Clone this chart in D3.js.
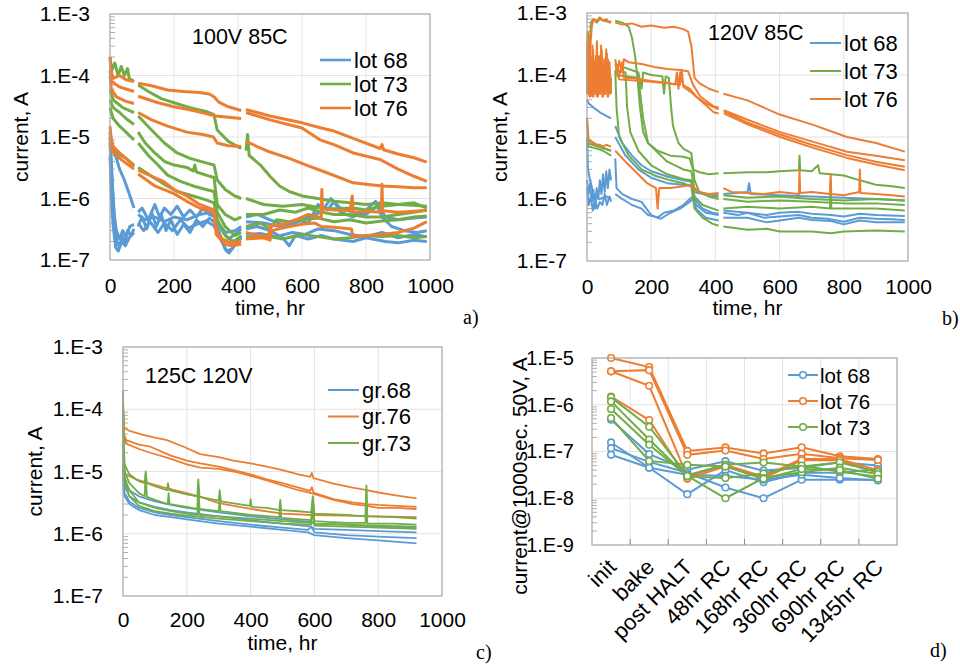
<!DOCTYPE html>
<html>
<head>
<meta charset="utf-8">
<script src="https://cdn.jsdelivr.net/npm/d3@7/dist/d3.min.js"></script>
<style>
  body { margin: 0; background: #fff; }
  svg { display: block; font-family: "Liberation Sans", Arial, sans-serif; }
</style>
</head>
<body>
<svg id="fig" width="960" height="664"></svg>
<script>

// ---------- data: [time hr, current A], null = logger gap ----------

// a) 100V 85C
var a68 = [
  [[0,1e-5],[3,5e-6],[8,1.5e-6],[15,4e-7],[22,2e-7],[30,1.6e-7],[38,2.5e-7],[45,1.8e-7],[55,3e-7],[65,2.5e-7],[75,3.2e-7],[80,null],[88,3.5e-7],[100,5e-7],[115,3.2e-7],[130,6e-7],[145,3.5e-7],[160,5.5e-7],[175,3e-7],[190,4.5e-7],[210,2.6e-7],[230,3.8e-7],[250,2.8e-7],[270,4.5e-7],[290,3.5e-7],[310,4.8e-7],[330,4e-7],[345,2.5e-7],[360,1.5e-7],[372,1.3e-7],[385,1.6e-7],[400,2.2e-7],[410,2.5e-7],[415,null],[425,3.2e-7],[460,3.5e-7],[500,3e-7],[540,2.3e-7],[560,1.7e-7],[580,2.5e-7],[620,2.2e-7],[660,2.5e-7],[700,2.2e-7],[760,2e-7],[800,2.3e-7],[860,2e-7],[900,1.9e-7],[950,2.1e-7],[990,2e-7]],
  [[0,8e-6],[5,2.5e-6],[12,6e-7],[20,3e-7],[30,2.2e-7],[40,3e-7],[50,2.4e-7],[62,3.5e-7],[75,3.8e-7],[80,null],[88,6e-7],[100,7e-7],[120,4.5e-7],[140,8e-7],[155,5e-7],[170,7e-7],[190,5.5e-7],[210,7.5e-7],[230,5e-7],[250,6.5e-7],[270,5e-7],[290,7e-7],[310,5.5e-7],[330,5e-7],[350,3e-7],[370,2.2e-7],[390,2.6e-7],[410,3.2e-7],[415,null],[425,5e-7],[460,5.5e-7],[500,4.5e-7],[540,3.8e-7],[580,4.5e-7],[620,4e-7],[650,8e-7],[680,6.5e-7],[700,9e-7],[720,6e-7],[760,5e-7],[800,6.5e-7],[830,9e-7],[850,5e-7],[880,3.5e-7],[920,3e-7],[960,2.8e-7],[990,3e-7]],
  [[0,5e-6],[4,1.2e-6],[10,3.5e-7],[18,1.6e-7],[26,1.4e-7],[36,2e-7],[48,1.7e-7],[60,2.3e-7],[75,2.8e-7],[80,null],[88,4e-7],[105,3e-7],[125,4.2e-7],[150,2.8e-7],[170,4e-7],[195,3e-7],[220,4.5e-7],[245,3.3e-7],[270,3.8e-7],[300,4.3e-7],[325,3.6e-7],[345,2.2e-7],[365,1.4e-7],[380,1.5e-7],[400,2e-7],[410,2.3e-7],[415,null],[425,2.6e-7],[470,2.7e-7],[520,2.4e-7],[570,2.8e-7],[610,2.6e-7],[650,3.2e-7],[700,3e-7],[750,2.6e-7],[800,2.4e-7],[850,2.8e-7],[900,2.3e-7],[950,2.6e-7],[990,2.4e-7]],
  [[0,1.2e-5],[10,6e-6],[20,4.5e-6],[30,3e-6],[45,2e-6],[60,1.2e-6],[75,7e-7],[80,null],[88,5.5e-7],[110,4.5e-7],[140,5e-7],[170,4.2e-7],[200,5e-7],[240,4.5e-7],[280,5.5e-7],[320,6e-7],[340,4e-7],[360,2.8e-7],[390,3e-7],[410,3.5e-7],[415,null],[425,4.2e-7],[480,4e-7],[530,3.5e-7],[580,4e-7],[620,5e-7],[660,6e-7],[690,1e-6],[720,7e-7],[760,6e-7],[800,5.5e-7],[840,8e-7],[860,5e-7],[900,4.5e-7],[950,4.8e-7],[990,5e-7]]
];
var a73 = [
  [[0,2e-4],[5,1.2e-4],[15,1.6e-4],[25,1e-4],[35,1.4e-4],[45,1e-4],[55,1.3e-4],[60,9e-5],[75,8e-5],[80,null],[88,7e-5],[120,5.5e-5],[160,4.2e-5],[200,3.6e-5],[250,3e-5],[300,2.6e-5],[325,2.3e-5],[335,1.3e-5],[370,8.5e-6],[410,6.5e-6],[415,null],[425,6e-6],[430,1.1e-5],[435,5e-6],[470,3.5e-6],[500,2.3e-6],[530,1.6e-6],[560,1.3e-6],[600,1.1e-6],[650,1e-6],[700,9e-7],[750,8.5e-7],[800,8e-7],[850,8.5e-7],[900,8e-7],[950,7.8e-7],[990,7.5e-7]],
  [[0,4e-5],[10,3e-5],[30,2.5e-5],[50,2e-5],[75,1.6e-5],[80,null],[88,1.2e-5],[110,8e-6],[140,5.5e-6],[170,4e-6],[200,3.5e-6],[240,3.2e-6],[260,2.8e-6],[265,3.5e-6],[270,2.7e-6],[300,2.4e-6],[325,2.2e-6],[335,8e-7],[360,5.5e-7],[390,4.5e-7],[410,5e-7],[415,null],[425,5.5e-7],[480,5.5e-7],[530,6.5e-7],[580,6e-7],[620,7e-7],[660,6e-7],[700,5.5e-7],[750,5.5e-7],[800,5e-7],[850,5e-7],[900,5.5e-7],[950,6e-7],[990,6.5e-7]],
  [[0,3e-5],[10,2e-5],[30,1.5e-5],[50,1.2e-5],[75,9e-6],[80,null],[88,8e-6],[120,5e-6],[150,3.5e-6],[180,2.4e-6],[220,1.9e-6],[260,1.6e-6],[300,1.4e-6],[325,1.3e-6],[335,6e-7],[360,3.5e-7],[390,2.5e-7],[410,2.8e-7],[415,null],[425,3.5e-7],[470,4e-7],[500,3.2e-7],[520,4.5e-7],[560,4.2e-7],[600,4.5e-7],[650,4.8e-7],[700,4.2e-7],[750,4.5e-7],[800,4e-7],[850,4.3e-7],[900,4.5e-7],[950,5e-7],[990,5.2e-7]],
  [[0,1e-5],[5,7e-6],[20,5.5e-6],[50,4.5e-6],[75,3.5e-6],[80,null],[88,3.2e-6],[130,2.3e-6],[170,1.7e-6],[210,1.3e-6],[260,1.1e-6],[300,9.5e-7],[325,8.5e-7],[335,4.5e-7],[360,2.5e-7],[385,2e-7],[410,2.4e-7],[415,null],[425,2.3e-7],[480,2.5e-7],[540,2.2e-7],[600,2.6e-7],[650,2.4e-7],[700,2.2e-7],[750,2.3e-7],[800,2.5e-7],[850,2.4e-7],[900,2.5e-7],[950,2.3e-7],[990,2.4e-7]],
  [[0,6e-5],[10,4e-5],[40,3e-5],[75,2.5e-5],[80,null],[88,2.2e-5],[130,1.3e-5],[170,8e-6],[210,5.5e-6],[250,4.5e-6],[300,3.8e-6],[325,3.5e-6],[335,2e-6],[360,1.4e-6],[390,1.1e-6],[410,1e-6],[415,null],[425,1e-6],[480,8e-7],[540,7.5e-7],[600,8e-7],[660,7e-7],[700,6.8e-7],[760,7e-7],[800,6.5e-7],[850,7.5e-7],[900,8e-7],[950,8.5e-7],[990,7e-7]]
];
var a76 = [
  [[0,2e-4],[3,1.2e-4],[10,9e-5],[30,1e-4],[50,8.5e-5],[75,8e-5],[80,null],[88,7.5e-5],[130,6.8e-5],[180,5.8e-5],[230,5.5e-5],[280,5.3e-5],[310,5e-5],[325,4.5e-5],[340,3.7e-5],[370,3.1e-5],[410,2.7e-5],[415,null],[425,2.8e-5],[500,2.2e-5],[600,1.7e-5],[660,1.4e-5],[700,1.25e-5],[760,9.5e-6],[844,6.5e-6],[850,7.5e-6],[855,6.2e-6],[900,5.3e-6],[950,4.6e-6],[990,3.9e-6]],
  [[0,1.2e-4],[5,8e-5],[30,6.5e-5],[75,5.5e-5],[80,null],[88,4.6e-5],[150,3.6e-5],[200,3.1e-5],[260,2.7e-5],[300,2.4e-5],[330,2.2e-5],[370,2.1e-5],[410,2e-5],[415,null],[425,2.5e-5],[500,1.9e-5],[600,1.4e-5],[656,9e-6],[700,7.5e-6],[760,5.5e-6],[844,4.3e-6],[900,3e-6],[950,2.3e-6],[990,1.9e-6]],
  [[0,1e-4],[4,6e-5],[20,4.5e-5],[50,3.8e-5],[75,3.5e-5],[80,null],[88,2.5e-5],[130,1.9e-5],[180,1.5e-5],[240,1.2e-5],[290,1.1e-5],[323,1e-5],[335,8e-6],[370,7.2e-6],[410,7e-6],[415,null],[425,8.5e-6],[460,7e-6],[500,5.7e-6],[560,4.5e-6],[620,3.4e-6],[680,2.6e-6],[760,1.8e-6],[800,1.7e-6],[850,1.6e-6],[900,1.55e-6],[950,1.5e-6],[990,1.5e-6]],
  [[0,1.5e-5],[4,9e-6],[10,7e-6],[30,5.5e-6],[50,4.5e-6],[75,3.3e-6],[80,null],[88,2.9e-6],[130,2.3e-6],[167,1.9e-6],[200,1.4e-6],[240,1.1e-6],[280,8e-7],[325,6.5e-7],[332,3e-7],[350,2.2e-7],[375,1.9e-7],[410,2e-7],[415,null],[425,2.8e-7],[460,2.5e-7],[495,2.4e-7],[500,3.6e-7],[540,3.8e-7],[580,4.5e-7],[620,5.5e-7],[650,5e-7],[660,4.8e-7],[662,1.4e-6],[664,6.8e-7],[700,6.5e-7],[750,6.3e-7],[757,1.1e-6],[760,6e-7],[800,6.2e-7],[848,6e-7],[850,1.7e-6],[852,6.3e-7],[900,6e-7],[950,6.2e-7],[990,6.4e-7]],
  [[0,1.2e-5],[5,6e-6],[30,4.5e-6],[75,3e-6],[80,null],[88,2.5e-6],[140,1.6e-6],[200,1.2e-6],[240,9e-7],[280,7e-7],[325,6e-7],[332,2.6e-7],[360,1.8e-7],[380,1.7e-7],[410,1.8e-7],[415,null],[425,2.2e-7],[480,2.3e-7],[500,2.1e-7],[505,3e-7],[560,3.5e-7],[600,3.8e-7],[640,4e-7],[660,3.5e-7],[700,3.4e-7],[755,3.2e-7],[758,2.4e-7],[800,2.5e-7],[850,2.6e-7],[900,2.8e-7],[950,3.3e-7],[990,4.2e-7]]
];

// b) 120V 85C
var b68 = [
  [[0,4e-5],[5,3.5e-5],[20,3e-5],[40,2.5e-5],[60,2.2e-5],[75,2e-5],[80,null],[88,1.5e-5],[110,8e-6],[140,5e-6],[170,3.5e-6],[200,2.8e-6],[250,2.3e-6],[300,2e-6],[325,1.9e-6],[335,1e-6],[360,7e-7],[390,6e-7],[410,5.8e-7],[415,null],[425,6e-7],[470,5.5e-7],[500,6e-7],[550,5e-7],[600,5.2e-7],[660,5.5e-7],[700,5e-7],[750,4.8e-7],[800,4.3e-7],[850,5e-7],[900,4.8e-7],[950,4.7e-7],[990,4.6e-7]],
  [[0,2e-6],[5,1.2e-6],[10,1.8e-6],[15,9e-7],[20,1.4e-6],[25,7e-7],[30,1.5e-6],[35,1e-6],[40,2e-6],[45,1.2e-6],[50,2.5e-6],[55,1.3e-6],[60,2.8e-6],[65,1.5e-6],[70,3e-6],[75,2e-6],[80,null],[88,4.5e-6],[92,1.5e-6],[110,1.2e-6],[140,1e-6],[170,9e-7],[185,7e-7],[200,5.5e-7],[220,5e-7],[240,6e-7],[270,6.5e-7],[300,8e-7],[320,1e-6],[330,1.1e-6],[340,8e-7],[370,6e-7],[410,5.5e-7],[415,null],[425,6.5e-7],[500,6e-7],[560,5.5e-7],[600,6e-7],[660,6.2e-7],[700,5.8e-7],[760,5.5e-7],[800,5.2e-7],[850,5.8e-7],[900,5.5e-7],[990,5.3e-7]],
  [[0,1.5e-6],[5,8e-7],[12,1.1e-6],[18,6.5e-7],[25,1e-6],[32,7e-7],[40,9e-7],[48,8e-7],[55,1.2e-6],[62,8e-7],[70,1.1e-6],[75,9e-7],[80,null],[88,1.2e-6],[110,1e-6],[140,8e-7],[170,7e-7],[190,5.5e-7],[210,5.2e-7],[230,4.8e-7],[260,6e-7],[290,7e-7],[320,9e-7],[330,1e-6],[340,7e-7],[370,5e-7],[410,4.5e-7],[415,null],[425,5e-7],[500,5e-7],[560,4.2e-7],[600,4.5e-7],[660,5e-7],[700,4.6e-7],[760,4.4e-7],[800,3.9e-7],[850,4.5e-7],[900,4.2e-7],[990,4.2e-7]],
  [[0,1e-5],[3,3e-6],[10,2e-6],[20,1.2e-6],[40,1e-6],[60,1.1e-6],[75,1e-6],[80,null],[88,1e-5],[120,5e-6],[160,3e-6],[200,2.2e-6],[250,1.8e-6],[300,1.7e-6],[325,1.6e-6],[335,1.3e-6],[360,1.2e-6],[410,1.15e-6],[415,null],[425,1.2e-6],[500,1.3e-6],[505,1.8e-6],[510,1.2e-6],[600,1.15e-6],[700,1.1e-6],[800,1.05e-6],[900,1e-6],[990,9.5e-7]]
];
var b73 = [
  [[0,1e-4],[3,5e-4],[8,2e-4],[12,7e-4],[20,8e-4],[30,7e-4],[40,8e-4],[55,7.5e-4],[75,7e-4],[80,null],[88,7.5e-4],[110,7e-4],[130,6e-4],[140,4e-4],[150,2e-4],[158,8e-5],[165,3e-5],[175,1.2e-5],[190,8e-6],[220,6e-6],[260,5e-6],[300,4.8e-6],[320,4.5e-6],[330,3e-6],[350,2.7e-6],[380,2.5e-6],[410,2.6e-6],[415,null],[425,2.6e-6],[500,2.7e-6],[560,2.7e-6],[600,2.8e-6],[660,2.9e-6],[662,5e-6],[664,2.9e-6],[700,2.8e-6],[720,3.5e-6],[725,2.6e-6],[800,2.4e-6],[850,2e-6],[900,1.7e-6],[950,1.6e-6],[990,1.5e-6]],
  [[0,5e-5],[3,3e-4],[6,6e-5],[10,2e-4],[14,5e-5],[18,1.5e-4],[22,6e-5],[30,2e-4],[36,5e-5],[45,1.2e-4],[55,6e-5],[65,1.5e-4],[75,8e-5],[80,null],[88,1.5e-4],[120,1.3e-4],[160,1.1e-4],[170,6e-5],[175,1.1e-4],[200,1e-4],[235,9.5e-5],[240,5e-5],[245,9.5e-5],[255,9e-5],[262,3e-5],[268,1.5e-5],[285,8e-6],[300,6.5e-6],[325,5.5e-6],[335,2e-6],[350,1.3e-6],[380,1.1e-6],[410,1e-6],[415,null],[425,1e-6],[500,9e-7],[600,9.5e-7],[700,9e-7],[800,8.5e-7],[900,8.5e-7],[990,8e-7]],
  [[0,1e-5],[5,7e-6],[30,6.5e-6],[50,6e-6],[75,5e-6],[80,null],[88,1.2e-4],[92,3e-5],[100,1e-5],[130,5e-6],[170,3e-6],[210,2.4e-6],[260,2e-6],[300,1.8e-6],[325,1.6e-6],[335,7e-7],[360,5e-7],[390,4e-7],[410,3.7e-7],[415,null],[425,3.6e-7],[500,3.2e-7],[560,3.3e-7],[600,3e-7],[700,3e-7],[760,2.8e-7],[800,3e-7],[900,3.1e-7],[990,3e-7]],
  [[0,8e-6],[75,6e-6],[80,null],[88,1.2e-4],[120,1.1e-4],[125,3e-5],[135,1.2e-5],[160,6e-6],[200,3.5e-6],[250,2.5e-6],[300,2.1e-6],[325,2e-6],[335,1.1e-6],[360,8e-7],[410,6.5e-7],[415,null],[425,7e-7],[500,7.5e-7],[600,7e-7],[700,7.5e-7],[757,7e-7],[759,2e-6],[761,7e-7],[800,7e-7],[900,7e-7],[990,6.5e-7]],
  [[0,2e-5],[5,9e-6],[40,7e-6],[75,6e-6],[80,null],[88,1e-4],[160,9e-5],[175,2e-5],[190,8e-6],[250,4e-6],[300,3e-6],[325,2.8e-6],[335,1.4e-6],[380,1.1e-6],[410,1.1e-6],[415,null],[425,1.15e-6],[500,1.05e-6],[600,1.1e-6],[700,1e-6],[800,9.5e-7],[900,1e-6],[990,9.5e-7]]
];
var b76 = [
  [[0,2e-4],[3,5e-4],[8,2e-4],[15,6e-4],[20,8e-4],[30,7.5e-4],[40,8.5e-4],[50,7.5e-4],[60,8e-4],[70,7e-4],[75,7.5e-4],[80,null],[88,7e-4],[110,6.5e-4],[140,6.8e-4],[170,6e-4],[200,6.3e-4],[240,5.8e-4],[270,6e-4],[300,5.5e-4],[315,5e-4],[325,3e-4],[335,9e-5],[350,7.4e-5],[380,6e-5],[410,5.3e-5],[415,null],[425,5e-5],[500,3.9e-5],[600,2.3e-5],[700,1.6e-5],[810,1e-5],[900,8e-6],[990,5.8e-6]],
  [[0,3e-4],[2,5e-5],[5,2.5e-4],[8,4.5e-5],[11,2e-4],[14,6e-5],[17,3e-4],[20,4.5e-5],[24,1.5e-4],[27,5e-5],[31,3.5e-4],[34,4.5e-5],[38,2e-4],[42,5e-5],[46,2.5e-4],[50,4.5e-5],[54,1.8e-4],[58,5e-5],[62,2.2e-4],[66,4.5e-5],[70,1.6e-4],[75,5e-5],[80,null],[88,1.8e-4],[95,1e-4],[100,1.7e-4],[110,1.1e-4],[115,1.8e-4],[130,1.6e-4],[170,1.5e-4],[210,1.35e-4],[250,1.25e-4],[290,1.2e-4],[315,1.15e-4],[330,7e-5],[353,4.5e-5],[395,3.1e-5],[410,3e-5],[415,null],[426,2.7e-5],[500,1.9e-5],[602,1.2e-5],[700,8.5e-6],[810,5.8e-6],[900,5e-6],[990,4.2e-6]],
  [[0,1.5e-4],[3,6e-5],[6,3e-4],[9,4.5e-5],[13,1.2e-4],[16,4.5e-5],[19,2.5e-4],[23,5e-5],[27,1.8e-4],[31,4.5e-5],[35,1.3e-4],[39,5e-5],[44,3e-4],[48,4.5e-5],[52,1.4e-4],[56,5e-5],[60,2.6e-4],[64,4.5e-5],[68,1.2e-4],[72,5e-5],[75,9e-5],[80,null],[88,1e-4],[100,9.5e-5],[110,1.6e-4],[115,9e-5],[150,8.8e-5],[200,8e-5],[250,7.5e-5],[275,7e-5],[280,1.1e-4],[285,6e-5],[290,1.1e-4],[300,6.9e-5],[320,6e-5],[340,4.5e-5],[370,3.5e-5],[410,2.8e-5],[415,null],[426,2.6e-5],[500,1.7e-5],[602,1.1e-5],[700,7.5e-6],[810,5.1e-6],[900,4e-6],[990,3.3e-6]],
  [[0,8e-5],[4,2.5e-4],[8,5e-5],[14,1.5e-4],[20,5e-5],[28,2e-4],[36,6e-5],[45,1.5e-4],[55,5e-5],[65,1.8e-4],[75,6e-5],[80,null],[88,1.5e-4],[100,8.5e-5],[200,7.8e-5],[290,7e-5],[295,1.2e-4],[300,6.5e-5],[330,5e-5],[395,2.5e-5],[410,2.4e-5],[415,null],[426,2.4e-5],[500,1.6e-5],[602,1e-5],[700,6.8e-6],[810,4.6e-6],[900,3.6e-6],[990,2.9e-6]],
  [[0,2e-5],[3,9e-6],[10,8.5e-6],[20,8e-6],[30,7.5e-6],[40,7.5e-6],[50,7e-6],[60,7.5e-6],[75,7e-6],[80,null],[88,6e-6],[120,4e-6],[150,2.8e-6],[187,1.8e-6],[215,1.5e-6],[220,7e-7],[225,1.5e-6],[260,1.5e-6],[300,1.6e-6],[320,1.7e-6],[335,1.5e-6],[350,1.3e-6],[380,1.2e-6],[410,1.25e-6],[415,null],[425,1.5e-6],[450,1.3e-6],[500,1.25e-6],[550,1.2e-6],[600,1.3e-6],[660,1.2e-6],[662,3e-6],[664,1.25e-6],[700,1.3e-6],[757,1.2e-6],[759,2.5e-6],[761,1.2e-6],[800,1.15e-6],[848,1.3e-6],[850,3e-6],[852,1.25e-6],[900,1.2e-6],[950,1.15e-6],[990,1.1e-6]]
];

// c) 125C 120V
var c68 = [
  [[0,3e-5],[2,1e-5],[5,7e-6],[20,5e-6],[50,4e-6],[100,3.3e-6],[150,2.9e-6],[200,2.6e-6],[250,2.4e-6],[300,2.2e-6],[400,1.9e-6],[500,1.7e-6],[590,1.55e-6],[600,1.45e-6],[700,1.4e-6],[800,1.3e-6],[920,1.25e-6]],
  [[0,2e-5],[2,8e-6],[5,6e-6],[20,4e-6],[50,3.2e-6],[100,2.7e-6],[150,2.4e-6],[200,2.2e-6],[300,1.9e-6],[400,1.65e-6],[500,1.45e-6],[590,1.3e-6],[600,1.2e-6],[700,1.15e-6],[800,1.1e-6],[920,1.05e-6]],
  [[0,1.5e-5],[2,6e-6],[5,4.5e-6],[20,3.3e-6],[50,2.6e-6],[100,2.2e-6],[150,2e-6],[200,1.85e-6],[300,1.6e-6],[400,1.4e-6],[500,1.25e-6],[580,1.15e-6],[590,1.3e-6],[600,1.05e-6],[700,9.5e-7],[800,9e-7],[920,8.5e-7]],
  [[0,1.2e-5],[2,5e-6],[5,4e-6],[20,3e-6],[50,2.4e-6],[100,2e-6],[150,1.85e-6],[200,1.7e-6],[300,1.45e-6],[400,1.3e-6],[500,1.15e-6],[580,1.05e-6],[600,9.5e-7],[700,8.5e-7],[800,7.8e-7],[920,7e-7]]
];
var c76 = [
  [[0,1.2e-4],[2,8e-5],[4,5e-5],[20,4.5e-5],[60,3.9e-5],[100,3.5e-5],[138,3.2e-5],[190,2.5e-5],[242,1.9e-5],[300,1.7e-5],[347,1.5e-5],[400,1.35e-5],[451,1.2e-5],[500,1.05e-5],[550,9e-6],[587,8.2e-6],[592,9.5e-6],[597,7.8e-6],[660,6.4e-6],[720,5.5e-6],[765,5e-6],[800,4.6e-6],[860,4.1e-6],[920,3.7e-6]],
  [[0,1e-4],[3,4e-5],[10,3.2e-5],[50,2.7e-5],[86,2.5e-5],[150,1.8e-5],[200,1.5e-5],[242,1.35e-5],[300,1.2e-5],[347,1.05e-5],[400,9e-6],[451,7.5e-6],[500,6.5e-6],[550,5.5e-6],[587,4.9e-6],[592,5.6e-6],[597,4.6e-6],[660,3.6e-6],[720,3.2e-6],[765,3e-6],[800,2.9e-6],[860,2.8e-6],[920,2.7e-6]],
  [[0,9e-5],[3,3.5e-5],[10,2.8e-5],[50,2.3e-5],[86,2e-5],[150,1.6e-5],[200,1.3e-5],[242,1.15e-5],[300,1.1e-5],[347,1e-5],[400,8.5e-6],[451,7.2e-6],[500,6e-6],[550,5e-6],[590,4.5e-6],[660,3.5e-6],[720,3e-6],[765,2.8e-6],[800,2.6e-6],[860,2.6e-6],[920,2.5e-6]],
  [[0,3e-5],[3,1.2e-5],[8,9e-6],[40,7.5e-6],[86,6.4e-6],[130,5.5e-6],[200,4.5e-6],[250,3.8e-6],[300,3.1e-6],[400,2.5e-6],[500,2.1e-6],[590,2e-6],[700,1.95e-6],[800,1.9e-6],[920,1.85e-6]]
];
var c73 = [
  [[0,2e-4],[2,3e-5],[5,1.3e-5],[20,9e-6],[50,7e-6],[68,6.5e-6],[71,1e-5],[75,6.5e-6],[100,5.8e-6],[138,5e-6],[141,6.5e-6],[145,5e-6],[200,4.3e-6],[233,4e-6],[236,7.5e-6],[240,3.9e-6],[300,3.4e-6],[303,5e-6],[307,3.3e-6],[398,2.8e-6],[400,3.6e-6],[403,2.7e-6],[451,2.6e-6],[490,2.4e-6],[493,3.5e-6],[496,2.4e-6],[550,2.3e-6],[590,2.2e-6],[595,4e-6],[600,2.1e-6],[700,2e-6],[760,1.9e-6],[763,6e-6],[766,1.9e-6],[850,1.85e-6],[920,1.75e-6]],
  [[0,1e-4],[2,2e-5],[5,1e-5],[20,6.5e-6],[50,4.5e-6],[68,4e-6],[71,9e-6],[75,3.9e-6],[100,3.5e-6],[140,3e-6],[143,4.5e-6],[146,3e-6],[200,2.7e-6],[233,2.5e-6],[236,6e-6],[240,2.5e-6],[300,2.3e-6],[303,3.5e-6],[306,2.3e-6],[400,2e-6],[490,1.85e-6],[493,2.8e-6],[496,1.8e-6],[590,1.65e-6],[595,3.5e-6],[600,1.6e-6],[700,1.5e-6],[760,1.5e-6],[763,5e-6],[766,1.45e-6],[850,1.45e-6],[920,1.4e-6]],
  [[0,8e-5],[2,1.5e-5],[5,8e-6],[20,5e-6],[50,3.2e-6],[100,2.6e-6],[150,2.3e-6],[200,2.1e-6],[233,2e-6],[236,4e-6],[240,2e-6],[300,1.9e-6],[400,1.75e-6],[500,1.6e-6],[590,1.5e-6],[595,3e-6],[600,1.45e-6],[700,1.4e-6],[800,1.35e-6],[920,1.3e-6]],
  [[0,6e-5],[2,1.2e-5],[5,7e-6],[20,4e-6],[50,2.8e-6],[100,2.3e-6],[150,2.1e-6],[200,1.95e-6],[300,1.75e-6],[400,1.6e-6],[500,1.45e-6],[590,1.4e-6],[595,2.5e-6],[600,1.35e-6],[700,1.3e-6],[800,1.25e-6],[920,1.2e-6]]
];

// d) current at 1000 s, 50 V after each step
var dSteps = ["init", "bake", "post HALT", "48hr RC", "168hr RC", "360hr RC", "690hr RC", "1345hr RC"];
var d68 = [
  [4.8e-7, 8.8e-8, 4.1e-8, 6.2e-8, 3.9e-8, 4.5e-8, 5.9e-8, 5e-8],
  [1.56e-7, 4.5e-8, 1.22e-8, 4e-8, 2.2e-8, 3.5e-8, 3.5e-8, 4.2e-8],
  [1.18e-7, 6e-8, 3.5e-8, 1.7e-8, 1e-8, 2.5e-8, 2.5e-8, 2.5e-8],
  [8.5e-8, 4.5e-8, 3.2e-8, 3e-8, 2.5e-8, 3.2e-8, 2.7e-8, 2.4e-8]
];
var d76 = [
  [1e-5, 6.4e-6, 1.03e-7, 1.22e-7, 9.1e-8, 1.23e-7, 7.9e-8, 6.9e-8],
  [5.2e-6, 5.5e-6, 8.5e-8, 1.05e-7, 6.9e-8, 8.9e-8, 7.2e-8, 6.6e-8],
  [5.2e-6, 2.55e-6, 2.9e-8, 5.2e-8, 2.9e-8, 7e-8, 6.8e-8, 4e-8],
  [1.5e-6, 4.7e-7, 2.6e-8, 4.8e-8, 2.7e-8, 6.5e-8, 6.5e-8, 3.5e-8]
];
var d73 = [
  [1.44e-6, 3.4e-7, 3.1e-8, 5.2e-8, 5.8e-8, 4.8e-8, 5.8e-8, 3.7e-8],
  [1.18e-6, 1.8e-7, 2.9e-8, 2.7e-8, 3.4e-8, 5e-8, 3.7e-8, 2.9e-8],
  [8.1e-7, 1.4e-7, 3e-8, 1e-8, 2.7e-8, 3.6e-8, 4.5e-8, 3.3e-8],
  [5.2e-7, 6.3e-8, 5.2e-8, 4.8e-8, 2.6e-8, 4.2e-8, 4e-8, 2.6e-8]
];

var timeTicks = [0, 200, 400, 600, 800, 1000];
var decadesTime = [1e-7, 1e-6, 1e-5, 1e-4, 1e-3];
var decadesD = [1e-9, 1e-8, 1e-7, 1e-6, 1e-5];


// ---------- drawing ----------

var BLUE = "#5b9bd5", ORANGE = "#ed7d31", GREEN = "#70ad47";
var GRID = "#e3e3e3", FRAME = "#a6a6a6";

var svg = d3.select("#fig");

function sciFmt(d) {
  return "1.E" + Math.round(Math.log10(d));
}

// little inside ticks at 2..9 of every decade
function minorTicks(g, y, x0, decs) {
  var vals = [];
  for (var i = 0; i < decs.length - 1; i++) {
    for (var k = 2; k <= 9; k++) vals.push(decs[i] * k);
  }
  g.selectAll(null).data(vals).enter().append("line")
    .attr("x1", x0).attr("x2", x0 + 5)
    .attr("y1", function(d) { return y(d); })
    .attr("y2", function(d) { return y(d); })
    .attr("stroke", "#b0b0b0")
    .attr("stroke-width", 1);
}

function timePanel(p) {
  var x = d3.scaleLinear().domain([0, 1000]).range([p.left, p.right]);
  var y = d3.scaleLog().domain([1e-7, 1e-3]).range([p.bottom, p.top]);
  var g = svg.append("g");

  // grid
  g.selectAll(null).data(timeTicks.slice(1, -1)).enter().append("line")
    .attr("x1", function(d) { return x(d); }).attr("x2", function(d) { return x(d); })
    .attr("y1", p.top).attr("y2", p.bottom)
    .attr("stroke", GRID).attr("stroke-width", 1);
  g.selectAll(null).data(decadesTime.slice(1, -1)).enter().append("line")
    .attr("x1", p.left).attr("x2", p.right)
    .attr("y1", function(d) { return y(d); }).attr("y2", function(d) { return y(d); })
    .attr("stroke", GRID).attr("stroke-width", 1);
  minorTicks(g, y, p.left, decadesTime);

  // traces
  var line = d3.line()
    .defined(function(d) { return d[1] != null; })
    .x(function(d) { return x(d[0]); })
    .y(function(d) { return y(d[1]); })
    .curve(d3.curveLinear);

  p.series.forEach(function(s) {
    s.traces.forEach(function(tr) {
      g.append("path")
        .attr("d", line(tr))
        .attr("fill", "none")
        .attr("stroke", s.color)
        .attr("stroke-width", p.lineW)
        .attr("stroke-linejoin", "round");
    });
  });

  g.append("rect")
    .attr("x", p.left).attr("y", p.top)
    .attr("width", p.right - p.left).attr("height", p.bottom - p.top)
    .attr("fill", "none").attr("stroke", FRAME).attr("stroke-width", 1.2);

  // axes
  var ya = g.append("g")
    .attr("transform", "translate(" + p.left + ",0)")
    .call(d3.axisLeft(y).tickValues(decadesTime).tickFormat(sciFmt).tickSize(0).tickPadding(20));
  ya.select(".domain").remove();
  ya.selectAll("text").style("font-size", "21px").attr("fill", "#000");

  var xa = g.append("g")
    .attr("transform", "translate(0," + p.bottom + ")")
    .call(d3.axisBottom(x).tickValues(timeTicks).tickFormat(d3.format("d")).tickSize(0).tickPadding(p.xPad));
  xa.select(".domain").remove();
  xa.selectAll("text").style("font-size", "21px").attr("fill", "#000");

  g.append("text")
    .attr("x", (p.left + p.right) / 2).attr("y", p.xTitleY)
    .attr("text-anchor", "middle").style("font-size", "21px")
    .text("time, hr");

  g.append("text")
    .attr("transform", "translate(" + p.yTitleX + "," + ((p.top + p.bottom) / 2) + ") rotate(-90)")
    .attr("text-anchor", "middle").style("font-size", "21px")
    .text("current, A");

  g.append("text")
    .attr("x", p.titleX).attr("y", p.titleY)
    .style("font-size", "21.5px")
    .text(p.title);

  // legend
  var lg = g.append("g");
  p.legend.forEach(function(it, i) {
    var yy = p.legY + i * p.legStep;
    lg.append("line")
      .attr("x1", p.legX).attr("x2", p.legX + 31)
      .attr("y1", yy).attr("y2", yy)
      .attr("stroke", it.color).attr("stroke-width", p.legW);
    lg.append("text")
      .attr("x", p.legX + 34).attr("y", yy + 7.5)
      .style("font-size", "22px")
      .text(it.name);
  });

  svg.append("text")
    .attr("x", p.tagX).attr("y", p.tagY)
    .style("font-family", "'Liberation Serif', 'Times New Roman', serif")
    .style("font-size", "20px")
    .text(p.tag);
}

timePanel({
  left: 110, right: 430, top: 14, bottom: 260,
  lineW: 3, xPad: 18, xTitleY: 315, yTitleX: 28,
  title: "100V 85C", titleX: 192, titleY: 44,
  series: [{traces: a68, color: BLUE}, {traces: a73, color: GREEN}, {traces: a76, color: ORANGE}],
  legend: [{name: "lot 68", color: BLUE}, {name: "lot 73", color: GREEN}, {name: "lot 76", color: ORANGE}],
  legX: 320, legY: 60, legStep: 24, legW: 2.6,
  tag: "a)", tagX: 463, tagY: 324
});

timePanel({
  left: 587, right: 908, top: 13, bottom: 261,
  lineW: 2, xPad: 18, xTitleY: 315, yTitleX: 507,
  title: "120V 85C", titleX: 708, titleY: 40,
  series: [{traces: b68, color: BLUE}, {traces: b73, color: GREEN}, {traces: b76, color: ORANGE}],
  legend: [{name: "lot 68", color: BLUE}, {name: "lot 73", color: GREEN}, {name: "lot 76", color: ORANGE}],
  legX: 810, legY: 43, legStep: 28, legW: 2,
  tag: "b)", tagX: 942, tagY: 325
});

timePanel({
  left: 123, right: 442, top: 347, bottom: 596,
  lineW: 1.8, xPad: 16, xTitleY: 650, yTitleX: 42,
  title: "125C 120V", titleX: 145, titleY: 383,
  series: [{traces: c68, color: BLUE}, {traces: c76, color: ORANGE}, {traces: c73, color: GREEN}],
  legend: [{name: "gr.68", color: BLUE}, {name: "gr.76", color: ORANGE}, {name: "gr.73", color: GREEN}],
  legX: 328, legY: 390, legStep: 26.5, legW: 2,
  tag: "c)", tagX: 476, tagY: 659
});

// ---------- d) step chart ----------
(function() {
  var L = 592, R = 897, T = 358, B = 545;
  var x = d3.scaleBand().domain(dSteps).range([L, R]);
  var y = d3.scaleLog().domain([1e-9, 1e-5]).range([B, T]);
  var cx = function(i) { return x(dSteps[i]) + x.bandwidth() / 2; };
  var g = svg.append("g");

  var inner = dSteps.slice(1);
  g.selectAll(null).data(inner).enter().append("line")
    .attr("x1", function(d) { return x(d); }).attr("x2", function(d) { return x(d); })
    .attr("y1", T).attr("y2", B)
    .attr("stroke", GRID);
  g.selectAll(null).data(inner).enter().append("line")
    .attr("x1", function(d) { return x(d); }).attr("x2", function(d) { return x(d); })
    .attr("y1", B - 6).attr("y2", B)
    .attr("stroke", "#888");
  g.selectAll(null).data(decadesD.slice(1, -1)).enter().append("line")
    .attr("x1", L).attr("x2", R)
    .attr("y1", function(d) { return y(d); }).attr("y2", function(d) { return y(d); })
    .attr("stroke", GRID);
  minorTicks(g, y, L, decadesD);

  var line = d3.line()
    .x(function(d, i) { return cx(i); })
    .y(function(d) { return y(d); });

  var groups = [{rows: d68, color: BLUE}, {rows: d76, color: ORANGE}, {rows: d73, color: GREEN}];
  groups.forEach(function(s) {
    s.rows.forEach(function(row) {
      g.append("path").attr("d", line(row))
        .attr("fill", "none").attr("stroke", s.color).attr("stroke-width", 2);
    });
  });
  groups.forEach(function(s) {
    s.rows.forEach(function(row) {
      g.selectAll(null).data(row).enter().append("circle")
        .attr("cx", function(d, i) { return cx(i); })
        .attr("cy", function(d) { return y(d); })
        .attr("r", 3.3)
        .attr("fill", "#fff").attr("stroke", s.color).attr("stroke-width", 1.6);
    });
  });

  g.append("rect")
    .attr("x", L).attr("y", T).attr("width", R - L).attr("height", B - T)
    .attr("fill", "none").attr("stroke", FRAME).attr("stroke-width", 1.2);

  var ya = g.append("g")
    .attr("transform", "translate(" + L + ",0)")
    .call(d3.axisLeft(y).tickValues(decadesD).tickFormat(sciFmt).tickSize(0).tickPadding(18));
  ya.select(".domain").remove();
  ya.selectAll("text").style("font-size", "20px").attr("fill", "#000");

  var xa = g.append("g")
    .attr("transform", "translate(0," + B + ")")
    .call(d3.axisBottom(x).tickSize(0));
  xa.select(".domain").remove();
  xa.selectAll("text")
    .style("font-size", "22px").attr("fill", "#000")
    .style("text-anchor", "end")
    .attr("y", 0).attr("dy", "0.35em")
    .attr("transform", "translate(1,18) rotate(-45)");

  g.append("text")
    .attr("transform", "translate(527,476) rotate(-90)")
    .attr("text-anchor", "middle").style("font-size", "21px")
    .text("current@1000sec. 50V, A");

  var legend = [{name: "lot 68", color: BLUE}, {name: "lot 76", color: ORANGE}, {name: "lot 73", color: GREEN}];
  legend.forEach(function(it, i) {
    var yy = 375 + i * 26;
    g.append("line").attr("x1", 788).attr("x2", 818).attr("y1", yy).attr("y2", yy)
      .attr("stroke", it.color).attr("stroke-width", 2);
    g.append("circle").attr("cx", 803).attr("cy", yy).attr("r", 3.3)
      .attr("fill", "#fff").attr("stroke", it.color).attr("stroke-width", 1.6);
    g.append("text").attr("x", 820).attr("y", yy + 7.5)
      .style("font-size", "20.5px").text(it.name);
  });

  svg.append("text")
    .attr("x", 930).attr("y", 657)
    .style("font-family", "'Liberation Serif', 'Times New Roman', serif")
    .style("font-size", "20px")
    .text("d)");
})();

</script>
</body>
</html>
